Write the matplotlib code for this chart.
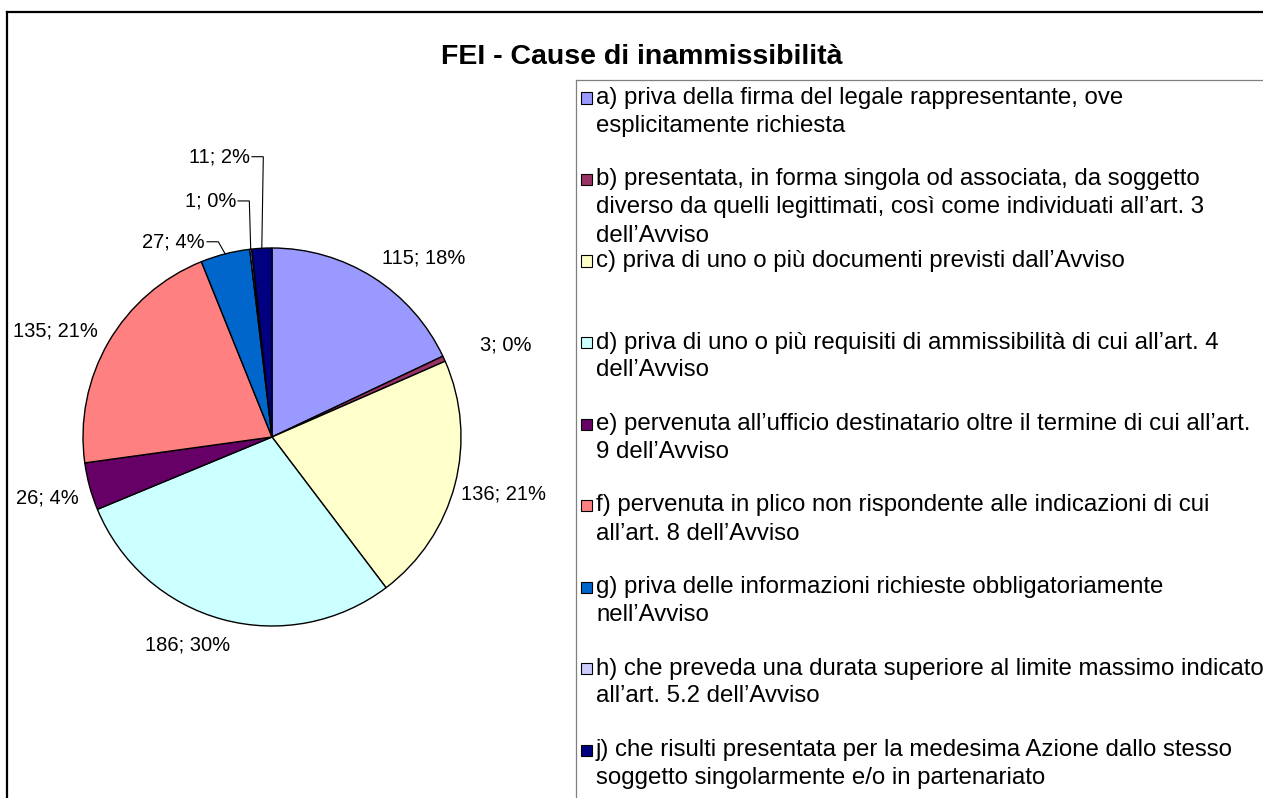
import numpy as np
import matplotlib
matplotlib.use("Agg")
import matplotlib.pyplot as plt
from matplotlib import font_manager as fm
from matplotlib.lines import Line2D
from matplotlib.patches import Rectangle

# ── data ───────────────────────────────────────────────────────────────────────
TITLE = "FEI - Cause di inammissibilità"
VALUES = [115, 3, 136, 186, 26, 135, 27, 1, 11]
PERCENTS = ["18%", "0%", "21%", "30%", "4%", "21%", "4%", "0%", "2%"]
COLORS = ["#9999FF", "#993366", "#FFFFCC", "#CCFFFF", "#660066",
          "#FF8080", "#0066CC", "#CCCCFF", "#000080"]
LEGEND_LINES = [
    ["a) priva della firma del legale rappresentante, ove",
     "esplicitamente richiesta"],
    ["b) presentata, in forma singola od associata, da soggetto",
     "diverso da quelli legittimati, così come individuati all’art. 3",
     "dell’Avviso"],
    ["c) priva di uno o più documenti previsti dall’Avviso"],
    ["d) priva di uno o più requisiti di ammissibilità di cui all’art. 4",
     "dell’Avviso"],
    ["e) pervenuta all’ufficio destinatario oltre il termine di cui all’art.",
     "9 dell’Avviso"],
    ["f) pervenuta in plico non rispondente alle indicazioni di cui",
     "all’art. 8 dell’Avviso"],
    ["g) priva delle informazioni richieste obbligatoriamente",
     "nell’Avviso"],
    ["h) che preveda una durata superiore al limite massimo indicato",
     "all’art. 5.2 dell’Avviso"],
    ["j) che risulti presentata per la medesima Azione dallo stesso",
     "soggetto singolarmente e/o in partenariato"],
]

# ── layout (pixels of a 1263x798 canvas) ──────────────────────────────────────
W, H = 1263, 798
CX, CY, R = 272, 437, 189
# radial factor of each plain label (None -> label with leader line)
LABEL_R = [1.09, 1.20, 1.08, 1.14, 1.06, 1.12, None, None, None]
# small nudges of the plain labels, in pixels (x right, y up)
LABEL_NUDGE = [(0, 5), (2, -2), (-9, -5), (15, 0), (0, -9), (9, 0),
               (0, 0), (0, 0), (0, 0)]
# leader labels: right end of the text, in radius units from the centre
LEADER_POS = {6: (-0.354, 1.033), 7: (-0.19, 1.249), 8: (-0.116, 1.483)}

try:
    fm.findfont("Liberation Sans Narrow", fallback_to_default=False)
    LEG_FONT, LEG_SIZE = "Liberation Sans Narrow", 21
except ValueError:
    LEG_FONT, LEG_SIZE = "Liberation Sans", 17.3

plt.rcParams["font.family"] = ["Liberation Sans", "DejaVu Sans"]

fig = plt.figure(figsize=(W / 100, H / 100), dpi=100)
fig.patch.set_facecolor("white")


def fx(px):
    return px / W


def fy(py):
    return 1 - py / H


# outer chart frame (cut off at right and bottom)
fig.add_artist(Line2D([fx(7), fx(7)], [-0.1, fy(12)], color="black", lw=1.6))
fig.add_artist(Line2D([fx(7), 1.1], [fy(12), fy(12)], color="black", lw=1.6))

# ── pie ────────────────────────────────────────────────────────────────────────
ax = fig.add_axes([0, 0, 1, 1])
wedges, _ = ax.pie(VALUES, colors=COLORS, startangle=90, counterclock=False,
                   wedgeprops=dict(edgecolor="black", linewidth=1.0))
ax.set_xlim(-CX / R, (W - CX) / R)
ax.set_ylim(-(H - CY) / R, CY / R)
ax.set_aspect("auto")
ax.axis("off")

for i, w in enumerate(wedges):
    mid = np.deg2rad((w.theta1 + w.theta2) / 2)
    c, s = np.cos(mid), np.sin(mid)
    text = f"{VALUES[i]}; {PERCENTS[i]}"
    if LABEL_R[i] is not None:
        f = LABEL_R[i]
        ax.annotate(text, xy=(f * c, f * s), xytext=LABEL_NUDGE[i],
                    textcoords="offset pixels",
                    ha="left" if c > 0 else "right", va="center",
                    fontsize=14.5, annotation_clip=False)
    else:
        tx, ty = LEADER_POS[i]
        ax.text(tx, ty, text, ha="right", va="center", fontsize=14.5)
        ax.plot([tx + 0.01, tx + 0.07, c], [ty, ty, s],
                color="black", lw=0.8, solid_joinstyle="miter")

# ── title ──────────────────────────────────────────────────────────────────────
fig.text(fx(642), fy(57), TITLE, ha="center", va="center",
         fontsize=20.5, fontweight="bold")

# ── legend ─────────────────────────────────────────────────────────────────────
LEG_X, LEG_Y = 576, 80
fig.add_artist(Line2D([fx(LEG_X), fx(LEG_X)], [-0.1, fy(LEG_Y)],
                      color="#808080", lw=0.9))
fig.add_artist(Line2D([fx(LEG_X), 1.1], [fy(LEG_Y), fy(LEG_Y)],
                      color="#808080", lw=0.9))

for i, lines in enumerate(LEGEND_LINES):
    y0 = 98 + 81.5 * i
    fig.add_artist(Rectangle((fx(581), fy(y0 + 5.5)), 11 / W, 11 / H,
                             facecolor=COLORS[i], edgecolor="black", lw=0.8))
    for k, line in enumerate(lines):
        fig.text(fx(596), fy(y0 + 28 * k), line, ha="left", va="center",
                 fontsize=LEG_SIZE, family=[LEG_FONT, "DejaVu Sans"])

fig.savefig("out.png", dpi=100)
